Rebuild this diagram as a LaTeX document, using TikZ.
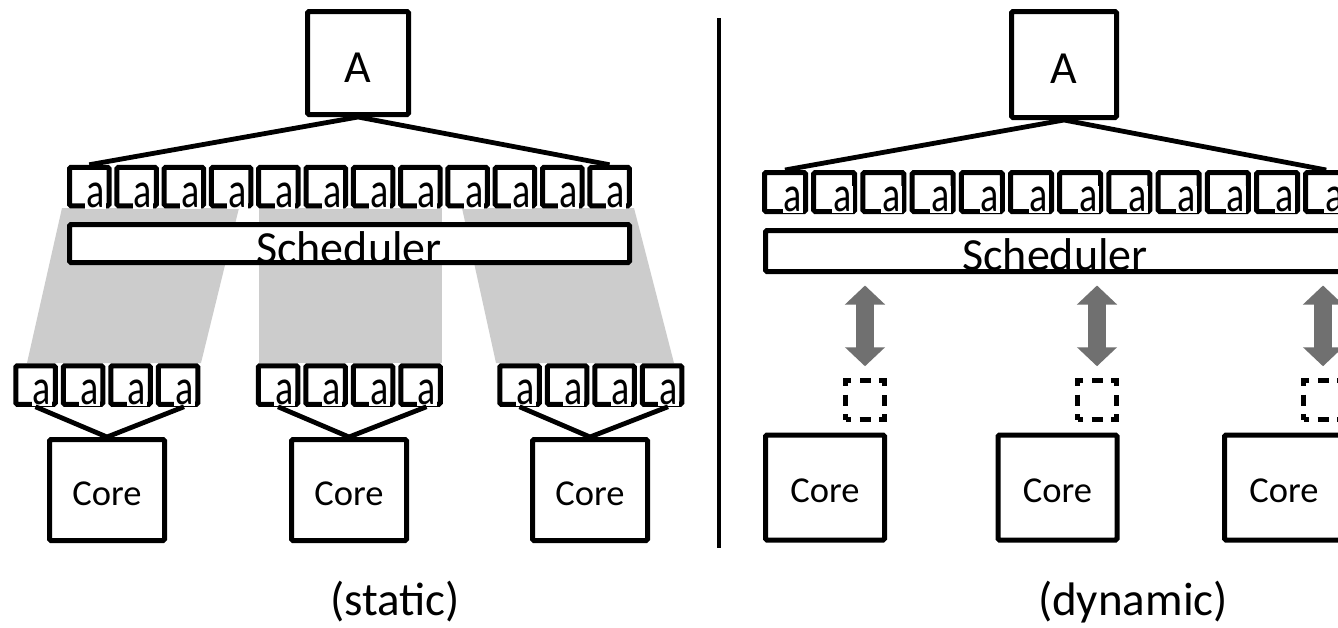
\documentclass[tikz,border=0pt]{standalone}
\usepackage{fontspec}
\usepackage{graphicx}
\setmainfont{Carlito}
\usetikzlibrary{arrows.meta}
\definecolor{bandgray}{RGB}{204,204,204}
\definecolor{arrowgray}{RGB}{112,112,112}
\tikzset{
  box/.style={draw=black, line width=5pt, rounded corners=1.5pt, fill=white, inner sep=0pt},
  slotL/.style={box, minimum width=39.5pt, minimum height=38.5pt},
  slotR/.style={box, minimum width=41pt, minimum height=39pt},
  glyph/.style={fill=white, inner sep=1.2pt, anchor=base, font=\fontsize{38}{40}\selectfont},
  txt/.style={anchor=base, inner sep=0pt},
  bigtxt/.style={txt, font=\fontsize{46}{50}\selectfont},
  coretxt/.style={txt, font=\fontsize{36.5}{40}\selectfont},
  captxt/.style={txt, font=\fontsize{47}{52}\selectfont},
  wire/.style={draw=black, line width=4.8pt},
  band/.style={fill=bandgray},
  holder/.style={draw=black, line width=4.5pt, dash pattern=on 11pt off 8.5pt, dash phase=5.5pt,
                 minimum width=39pt, minimum height=39pt, inner sep=0pt},
  dblarrow/.style={draw=arrowgray, line width=18pt,
                   {Triangle[width=39pt,length=19pt]}-{Triangle[width=39pt,length=19pt]}},
}
\newcommand{\slotglyph}{\scalebox{1}[1.33]{a}}
\begin{document}
\begin{tikzpicture}[x=1pt, y=-1pt]
  \useasboundingbox (0,0) rectangle (1338,627);
  \fill[white] (0,0) rectangle (1338,627);

  % ---------- static assignment ----------
  % shaded bands from the queue to each core's local queue
  \fill[band] (62,208) -- (239,208) -- (201,363) -- (27,363) -- cycle;
  \fill[band] (259,208) -- (442,208) -- (442,363) -- (259,363) -- cycle;
  \fill[band] (462,208) -- (634,208) -- (674,363) -- (496,363) -- cycle;

  \node[box, minimum width=101pt, minimum height=103pt] (AL) at (358,63) {};
  \node[bigtxt] (AtL) at (358,82) {A};

  \foreach \i in {0,...,11} {
    \node[slotL] (tl\i) at ({89.25+47.3*\i},186.5) {};
    \node[glyph] (tla\i) at ({95.75+47.3*\i},207) {\slotglyph};
  }
  \draw[wire] (tl0.north) -- (AL.south) -- (tl11.north);

  \node[box, minimum width=560pt, minimum height=38pt] (schL) at (349.5,243.5) {};
  \node[bigtxt] (schtL) at (349,263) {Scheduler};

  % local queues and cores
  \foreach \g/\sx/\cx in {1/35.5/107, 2/278/349, 3/519.5/590} {
    \node[box, minimum width=115pt, minimum height=101pt] (coreL\g) at (\cx,490) {};
    \node[coretxt] (coretL\g) at (\cx,505) {Core};
    \foreach \k in {0,...,3} {
      \node[slotL] (ll\g\k) at ({\sx+47.5*\k},385) {};
      \node[glyph] (lla\g\k) at ({\sx+47.5*\k+6.5},404.5) {\slotglyph};
    }
    \draw[wire] (ll\g0.south) -- (coreL\g.north) -- ([xshift=6pt]ll\g3.south);
  }
  \node[captxt] (capL) at (395,615) {(static)};

  % separator
  \coordinate (septop) at (719,18);
  \coordinate (sepbot) at (719,548);
  \draw[line width=4.5pt] (septop) -- (sepbot);

  % ---------- dynamic assignment ----------
  \node[box, minimum width=105pt, minimum height=106pt] (AR) at (1064,64.5) {};
  \node[bigtxt] (AtR) at (1064,83) {A};

  \foreach \i in {0,...,11} {
    \node[slotR] (tr\i) at ({785+49.2*\i},192) {};
    \node[glyph] (tra\i) at ({793+49.2*\i},211.5) {\slotglyph};
  }
  \draw[wire] (tr0.north) -- (AR.south) -- (tr11.north);

  \node[box, minimum width=582pt, minimum height=41pt] (schR) at (1056.5,251) {};
  \node[bigtxt] (schtR) at (1055,270) {Scheduler};

  \foreach \g/\hx/\cx in {1/865/825, 2/1097/1057.5, 3/1323/1284} {
    \node[holder] (ph\g) at (\hx,400) {};
    \node[box, minimum width=119pt, minimum height=105pt] (coreR\g) at (\cx,487.5) {};
    \node[coretxt] (coretR\g) at (\cx,502) {Core};
    \draw[dblarrow, shorten <=11.5pt, shorten >=12pt] (schR.south -| ph\g) -- (ph\g.north);
  }
  \node[captxt] (capR) at (1133,615) {(dynamic)};
\end{tikzpicture}
\end{document}
